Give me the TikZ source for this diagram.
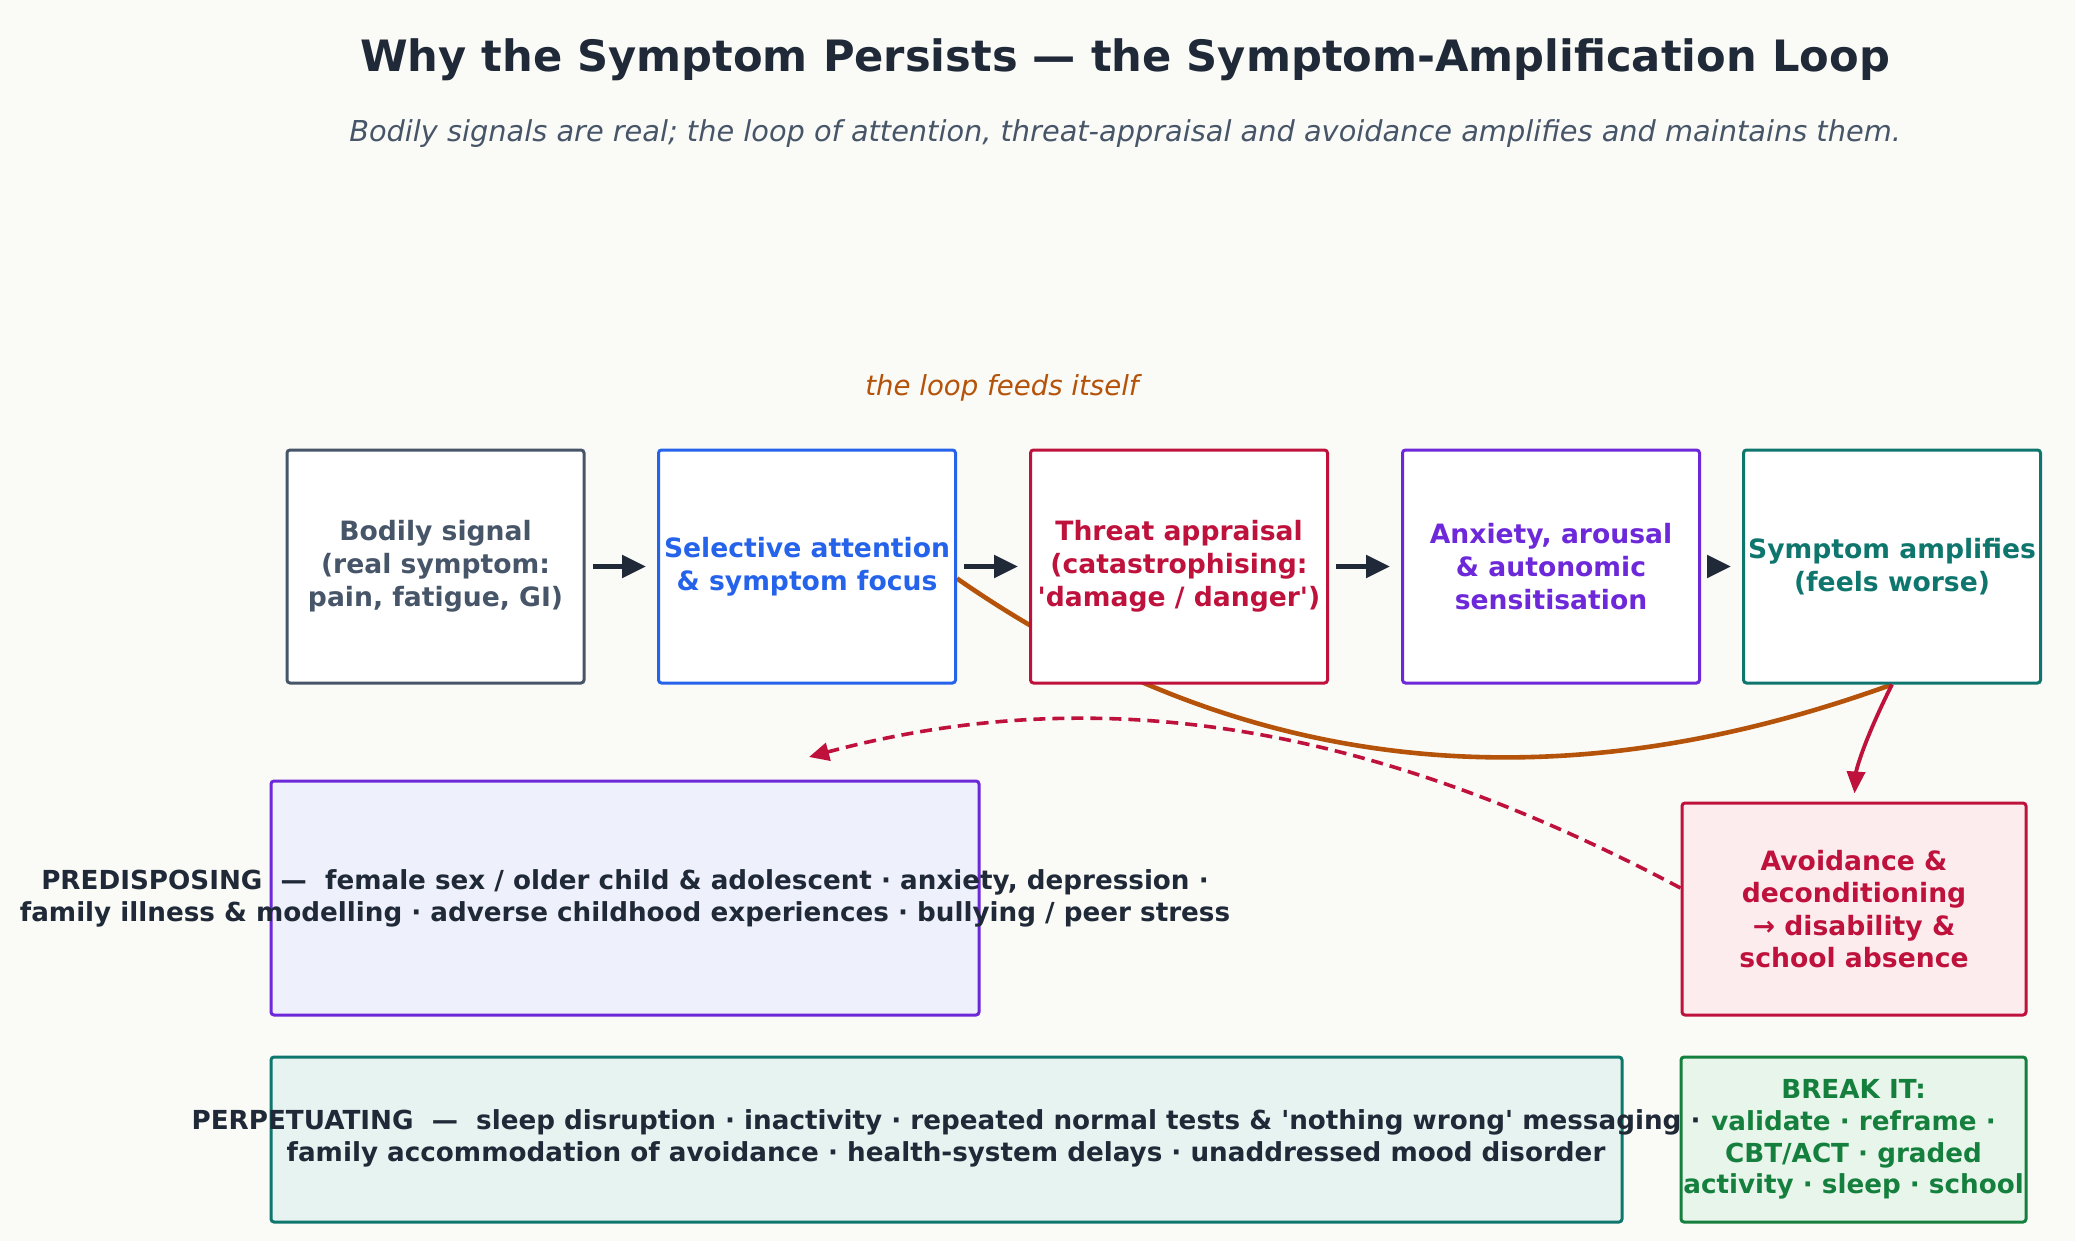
\documentclass[tikz,border=0pt]{standalone}
\usepackage{fontspec}
\setmainfont{DejaVu Sans}
\usetikzlibrary{arrows.meta}
\definecolor{bgcream}{HTML}{FAFAF6}
\definecolor{inkdark}{HTML}{1F2937}
\definecolor{subgray}{HTML}{475569}
\definecolor{signalgray}{HTML}{475569}
\definecolor{focusblue}{HTML}{2563EB}
\definecolor{threatred}{HTML}{BE123C}
\definecolor{arousalpurple}{HTML}{6D28D9}
\definecolor{amplifyteal}{HTML}{0F766E}
\definecolor{loopamber}{HTML}{B45309}
\definecolor{breakgreen}{HTML}{15803D}
\definecolor{predfill}{HTML}{EEF0FB}
\definecolor{perpfill}{HTML}{E7F3F1}
\definecolor{avoidfill}{HTML}{FDECEE}
\definecolor{breakfill}{HTML}{E8F5EB}
\pgfdeclarelayer{background}
\pgfsetlayers{background,main}
\tikzset{
    block/.style={
        draw, fill=white, line width=1.5pt, rounded corners=1.5pt,
        minimum width=148.5pt, minimum height=116.5pt,
        inner sep=0pt, align=center,
        font=\bfseries\fontsize{13.3}{16.5}\selectfont
    },
    panel/.style={draw, line width=1.5pt, rounded corners=1.5pt, inner sep=0pt},
    factors/.style={align=center, text=inkdark, font=\bfseries\fontsize{13.1}{15.9}\selectfont},
    flow/.style={-{Triangle[length=12pt,width=11pt]}, line width=2.5pt, draw=inkdark,
        shorten <=3.5pt, shorten >=5.5pt},
    loopline/.style={line width=2.3pt, draw=loopamber},
    backline/.style={-{Triangle[length=10pt,width=9pt]}, line width=1.8pt, draw=threatred,
        dash pattern=on 6pt off 3.5pt},
    dropline/.style={-{Triangle[length=11pt,width=9pt]}, line width=1.9pt, draw=threatred,
        shorten >=4pt}
}

\begin{document}
\begin{tikzpicture}[x=0.5pt, y=-0.5pt]

    % Background
    \begin{pgfonlayer}{background}
        \fill[bgcream] (0,0) rectangle (2075,1241);
    \end{pgfonlayer}
    \useasboundingbox (0,0) rectangle (2075,1241);

    % Title
    \node[text=inkdark, font=\bfseries\fontsize{21.6}{26}\selectfont] (ttl) at (1125,60)
        {Why the Symptom Persists — the Symptom-Amplification Loop};
    \node[text=subgray, font=\itshape\fontsize{14.4}{17}\selectfont] (sub) at (1125,134)
        {Bodily signals are real; the loop of attention, threat-appraisal and avoidance amplifies and maintains them.};

    % Loop boxes
    \node[block, draw=signalgray, text=signalgray] (body) at (435.5,566.5)
        {Bodily signal\\(real symptom:\\pain, fatigue, GI)};
    \node[block, draw=focusblue, text=focusblue] (attn) at (807,566.5)
        {Selective attention\\\& symptom focus};
    \node[block, draw=threatred, text=threatred] (threat) at (1179,566.5)
        {Threat appraisal\\(catastrophising:\\\textquotesingle damage / danger\textquotesingle)};
    \node[block, draw=arousalpurple, text=arousalpurple] (anx) at (1551,566.5)
        {Anxiety, arousal\\\& autonomic\\sensitisation};
    \node[block, draw=amplifyteal, text=amplifyteal] (amp) at (1892,566.5)
        {Symptom amplifies\\(feels worse)};

    \node[text=loopamber, font=\itshape\fontsize{13.8}{16}\selectfont] (feeds) at (1002,388)
        {the loop feeds itself};

    % Forward arrows
    \draw[flow] (body) -- (attn);
    \draw[flow] (attn) -- (threat);
    \draw[flow] (threat) -- (anx);
    \draw[flow] (anx) -- (amp);

    % Lower panels
    \node[panel, draw=arousalpurple, fill=predfill, minimum width=354pt, minimum height=117pt] (pred) at (625,898) {};
    \node[panel, draw=threatred, fill=avoidfill, minimum width=172pt, minimum height=106pt,
        align=center, text=threatred, font=\bfseries\fontsize{13.3}{16.3}\selectfont] (avoid) at (1854,909)
        {Avoidance \&\\deconditioning\\→ disability \&\\school absence};
    \node[panel, draw=amplifyteal, fill=perpfill, minimum width=675.5pt, minimum height=82.5pt] (perp) at (946.5,1139.5) {};
    \node[panel, draw=breakgreen, fill=breakfill, minimum width=172.5pt, minimum height=82.5pt] (brk) at (1853.5,1139.5) {};

    % Panel texts
    \node[factors] (predtxt) at (pred.center)
        {PREDISPOSING \ — \ female sex / older child \& adolescent · anxiety, depression ·\\
         family illness \& modelling · adverse childhood experiences · bullying / peer stress};
    \node[factors] (perptxt) at (946,1138)
        {PERPETUATING \ — \ sleep disruption · inactivity · repeated normal tests \& \textquotesingle nothing wrong\textquotesingle\ messaging ·\\
         family accommodation of avoidance · health-system delays · unaddressed mood disorder};
    \node[factors, text=breakgreen] (brktxt) at (brk.center)
        {BREAK IT:\\validate · reframe ·\\CBT/ACT · graded\\activity · sleep · school};

    % Loop back and avoidance
    \begin{pgfonlayer}{background}
        \draw[loopline] (amp.south) .. controls +(-282,102) and +(328,228) .. ([yshift=-6pt]attn.east);
    \end{pgfonlayer}
    \draw[dropline] (amp.south) .. controls +(-30,60) and +(2,-30) .. (avoid.north);
    \coordinate (back) at (809,757);
    \draw[backline] ([yshift=10.5pt]avoid.west) .. controls +(-309,-164) and +(290,-78) .. (back);

\end{tikzpicture}
\end{document}
